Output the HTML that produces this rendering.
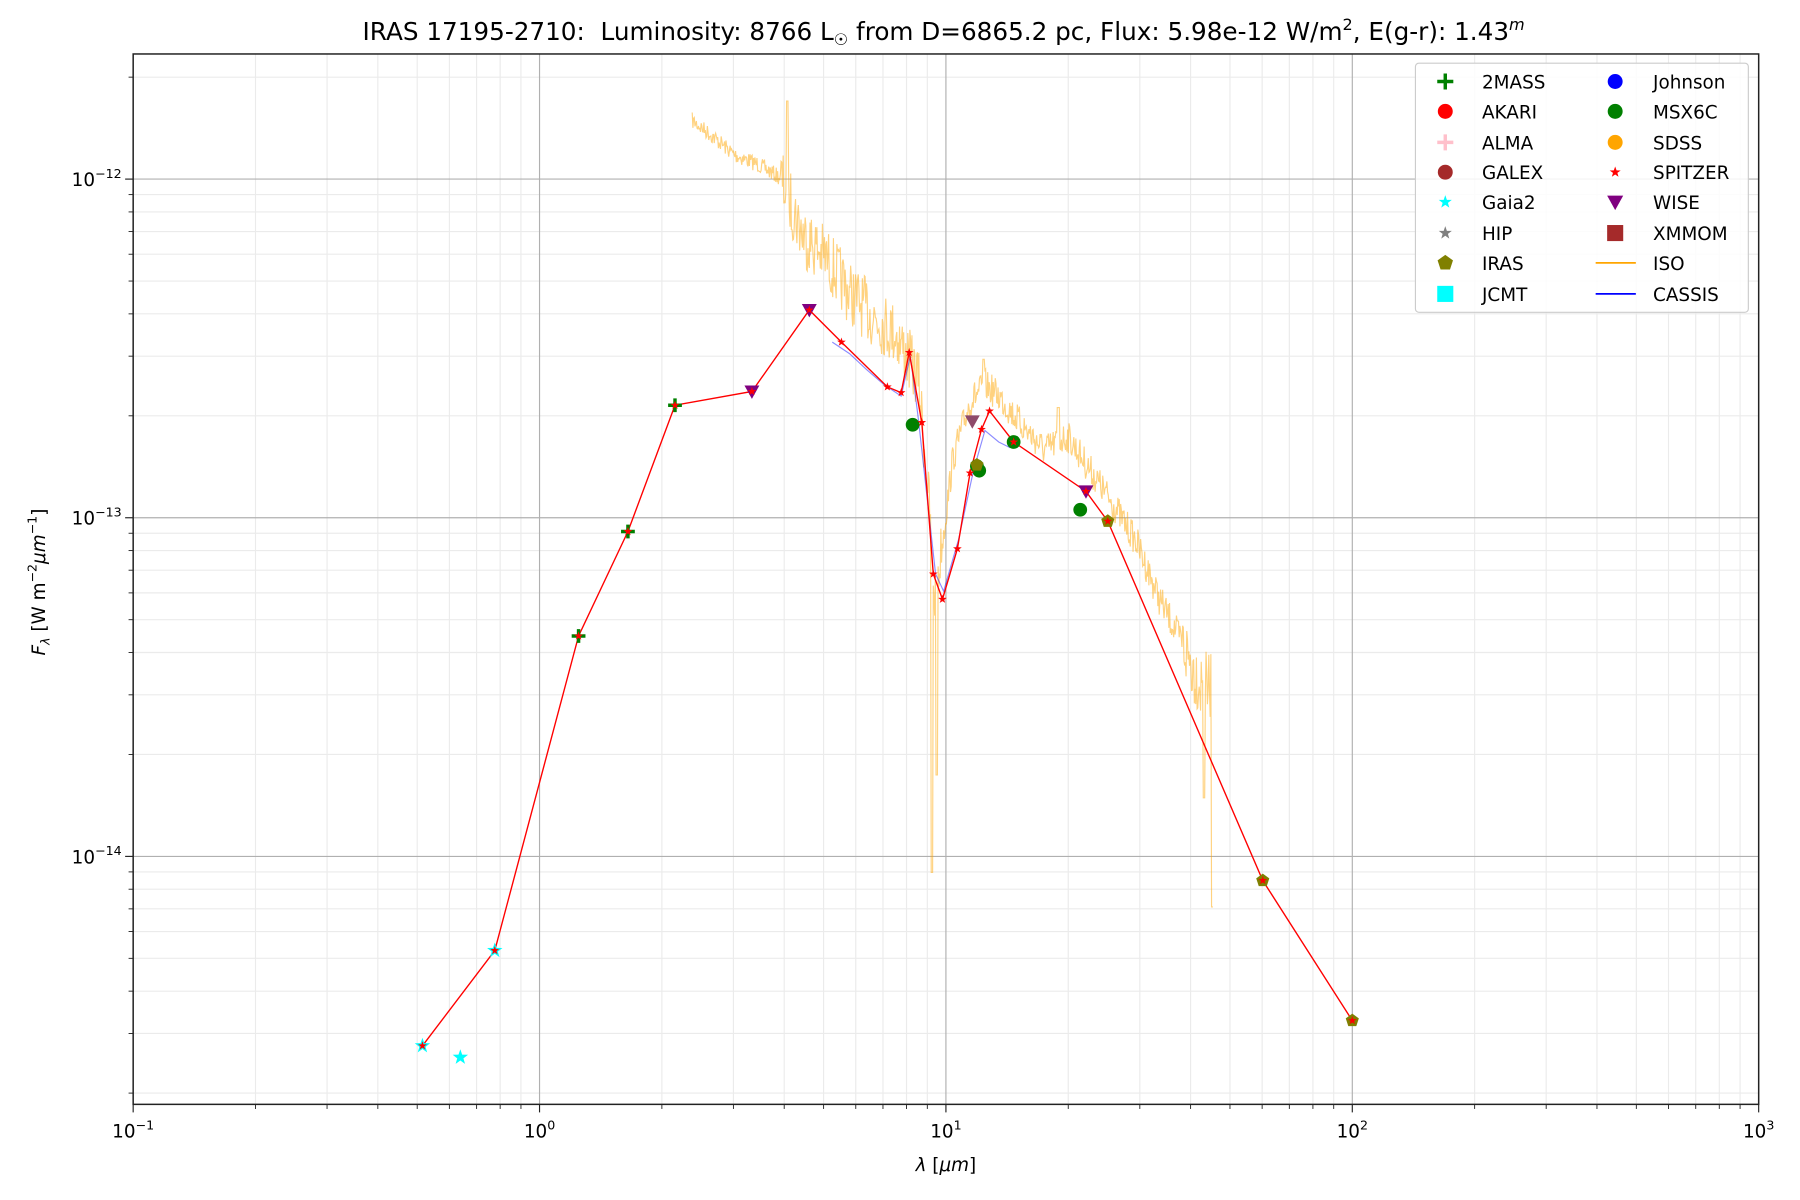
<!DOCTYPE html>
<html><head><meta charset="utf-8"><style>
html,body{margin:0;padding:0;background:#fff}
svg{display:block}
text{font-family:"DejaVu Sans","Liberation Sans",sans-serif;fill:#000}
</style></head><body>
<svg id="s" width="1800" height="1200" viewBox="0 0 1568 1045.3" xmlns="http://www.w3.org/2000/svg">
<rect width="1568" height="1046" fill="#fff"/>
<g id="grid"></g>
<g id="iso"></g>
<g id="data"></g>
<rect x="116" y="47" width="1416" height="915" fill="none" stroke="#222" stroke-width="1.3"/>
<g id="ticks"></g>
<text x="822" y="35" font-size="21.5" text-anchor="middle">IRAS 17195-2710: &#160;Luminosity: 8766 L<tspan font-size="14" dy="4">☉</tspan><tspan dy="-4"> from D=6865.2 pc, Flux: 5.98e-12 W/m</tspan><tspan font-size="14" dy="-9">2</tspan><tspan dy="9">, E(g-r): 1.43</tspan><tspan font-size="14" dy="-9" font-style="italic">m</tspan></text>
<text x="824" y="1020" font-size="16" text-anchor="middle"><tspan font-style="italic">λ</tspan> [<tspan font-style="italic">μm</tspan>]</text>
<text transform="translate(39,507) rotate(-90)" font-size="16" text-anchor="middle"><tspan font-style="italic">F</tspan><tspan font-size="11" dy="4" font-style="italic">λ</tspan><tspan dy="-4"> [W m</tspan><tspan font-size="11" dy="-7">−2</tspan><tspan dy="7" font-style="italic">μm</tspan><tspan font-size="11" dy="-7">−1</tspan><tspan dy="7">]</tspan></text>
<g id="legend">
<rect x="1233" y="55" width="290" height="217" rx="3" fill="#fff" fill-opacity="0.85" stroke="#ccc"/>
</g>
</svg>
<script>
const NS="http://www.w3.org/2000/svg";
function el(p,t,a){const e=document.createElementNS(NS,t);for(const k in a)e.setAttribute(k,a[k]);p.appendChild(e);return e;}
const X=l=>116+(l+1)*354, Y=l=>156+(-12-l)*295;
const g=document.getElementById('grid'),tk=document.getElementById('ticks');
for(let d=-1;d<3;d++)for(let m=2;m<10;m++){const x=X(d+Math.log10(m));el(g,'line',{x1:x,x2:x,y1:47,y2:962,stroke:'#ebebeb','stroke-width':1});el(tk,'line',{x1:x,x2:x,y1:962,y2:966,stroke:'#222','stroke-width':0.8});}
for(let d=-15;d<-11;d++)for(let m=2;m<10;m++){const y=Y(d+Math.log10(m));if(y<47||y>962)continue;el(g,'line',{x1:116,x2:1532,y1:y,y2:y,stroke:'#ebebeb','stroke-width':1});el(tk,'line',{x1:112,x2:116,y1:y,y2:y,stroke:'#222','stroke-width':0.8});}
for(let d=-1;d<=3;d++){const x=X(d);el(g,'line',{x1:x,x2:x,y1:47,y2:962,stroke:'#b0b0b0','stroke-width':1});el(tk,'line',{x1:x,x2:x,y1:962,y2:969,stroke:'#222','stroke-width':1});
const t=el(tk,'text',{x:x,y:991,'font-size':16,'text-anchor':'middle'});t.innerHTML='10<tspan font-size="11" dy="-7">'+(d<0?'−1':d)+'</tspan>';}
for(let d=-14;d<=-12;d++){const y=Y(d);el(g,'line',{x1:116,x2:1532,y1:y,y2:y,stroke:'#b0b0b0','stroke-width':1});el(tk,'line',{x1:109,x2:116,y1:y,y2:y,stroke:'#222','stroke-width':1});
const t=el(tk,'text',{x:106,y:y+6,'font-size':16,'text-anchor':'end'});t.innerHTML='10<tspan font-size="11" dy="-7">−'+(-d)+'</tspan>';}
let seed=7;const rnd=()=>{seed=(seed*16807)%2147483647;return seed/2147483647;};
const env=[[603,105],[620,118],[640,135],[660,143],[680,155],[688,175],[700,205],[720,225],[740,255],[760,275],[780,290],[800,330],[808,420],[814,520],[820,480],[830,400],[845,350],[858,335],[870,345],[890,370],[910,392],[930,380],[950,410],[970,440],[990,472],[1010,522],[1030,560],[1045,595],[1057,600]];
function envY(x){for(let i=0;i<env.length-1;i++){if(x>=env[i][0]&&x<=env[i+1][0]){const f=(x-env[i][0])/(env[i+1][0]-env[i][0]);return env[i][1]+f*(env[i+1][1]-env[i][1]);}}return 600;}
let pts=[];for(let x=603;x<=1057;x+=0.6){let amp=(x>680&&x<820)?28:(x>1030?30:14);if(x<680)amp=7;let y=envY(x)+(rnd()-0.5)*amp*2;
if(Math.abs(x-686)<1)y=88;if(Math.abs(x-812)<1)y=760;if(Math.abs(x-816)<1)y=675;if(Math.abs(x-1056)<1)y=790;if(Math.abs(x-1049)<1)y=695;if(Math.abs(x-857)<1)y=313;if(Math.abs(x-922)<1)y=355;
pts.push(x.toFixed(1)+','+y.toFixed(1));}
el(document.getElementById('iso'),'polyline',{points:pts.join(' '),fill:'none',stroke:'orange','stroke-width':1,'stroke-opacity':0.5});
const D=document.getElementById('data');
el(D,'polyline',{points:'725,298 740,308 755,322 770,335 785,345 793,310 800,365 815,500 822,515 835,470 848,410 858,375 870,385 880,390',fill:'none',stroke:'blue','stroke-width':1,'stroke-opacity':0.45});
const line=[[368,911],[431,828],[504,554],[547,463],[588,353],[655,341],[705,270],[733,298],[773,337],[785,342],[792,307],[803,368],[813,500],[821,522],[834,478],[845,412],[855,374],[862,358],[883,385],[946,428],[965,454],[1100,767],[1178,889]];
el(D,'polyline',{points:line.map(p=>p.join(',')).join(' '),fill:'none',stroke:'red','stroke-width':1.2});
function plus(p,x,y,c,s){el(p,'path',{d:`M${x-s},${y}H${x+s}M${x},${y-s}V${y+s}`,stroke:c,'stroke-width':3});}
function star(p,x,y,c,r){let d='';for(let i=0;i<10;i++){const a=-Math.PI/2+i*Math.PI/5,rr=i%2?r*0.4:r;d+=(i?'L':'M')+(x+rr*Math.cos(a)).toFixed(1)+','+(y+rr*Math.sin(a)).toFixed(1);}el(p,'path',{d:d+'Z',fill:c});}
function tri(p,x,y,c,r){el(p,'path',{d:`M${x-r},${y-r*0.8}L${x+r},${y-r*0.8}L${x},${y+r}Z`,fill:c});}
function pent(p,x,y,c,r){let d='';for(let i=0;i<5;i++){const a=-Math.PI/2+i*2*Math.PI/5;d+=(i?'L':'M')+(x+r*Math.cos(a)).toFixed(1)+','+(y+r*Math.sin(a)).toFixed(1);}el(p,'path',{d:d+'Z',fill:c});}
[[795,370],[853,410],[851,406],[883,385],[941,444]].forEach(p=>el(D,'circle',{cx:p[0],cy:p[1],r:6,fill:'green'}));
[[851,405],[965,454],[1100,767],[1178,889]].forEach(p=>pent(D,p[0],p[1],'olive',6));
[[504,554],[547,463],[588,353]].forEach(p=>plus(D,p[0],p[1],'green',6));
[[368,911],[431,828],[401,921]].forEach(p=>star(D,p[0],p[1],'cyan',7));
[[655,341],[705,270],[946,428]].forEach(p=>tri(D,p[0],p[1],'purple',6.5));
tri(D,847,367,'#8e4a6a',6.5);
line.forEach(p=>star(D,p[0],p[1],'red',4));
const L=document.getElementById('legend');
const c1=['2MASS','AKARI','ALMA','GALEX','Gaia2','HIP','IRAS','JCMT'],c2=['Johnson','MSX6C','SDSS','SPITZER','WISE','XMMOM','ISO','CASSIS'];
const ys=[71,97,124,150,176,203,229,256];
ys.forEach((y,i)=>{const a=el(L,'text',{x:1291,y:y+6,'font-size':16});a.textContent=c1[i];const b=el(L,'text',{x:1440,y:y+6,'font-size':16});b.textContent=c2[i];});
plus(L,1259,71,'green',7);el(L,'circle',{cx:1259,cy:97,r:6.5,fill:'red'});plus(L,1259,124,'pink',7);el(L,'circle',{cx:1259,cy:150,r:6.5,fill:'brown'});
star(L,1259,176,'cyan',6);star(L,1259,203,'gray',6);pent(L,1259,229,'olive',7);el(L,'rect',{x:1252,y:249,width:14,height:14,fill:'cyan'});
el(L,'circle',{cx:1407,cy:71,r:6.5,fill:'blue'});el(L,'circle',{cx:1407,cy:97,r:6.5,fill:'green'});el(L,'circle',{cx:1407,cy:124,r:6.5,fill:'orange'});
star(L,1407,150,'red',5);tri(L,1407,176,'purple',7);el(L,'rect',{x:1400,y:196,width:14,height:14,fill:'brown'});
el(L,'line',{x1:1390,x2:1425,y1:229,y2:229,stroke:'orange','stroke-width':1.5});el(L,'line',{x1:1390,x2:1425,y1:256,y2:256,stroke:'blue','stroke-width':1.5});
</script>
</body></html>
